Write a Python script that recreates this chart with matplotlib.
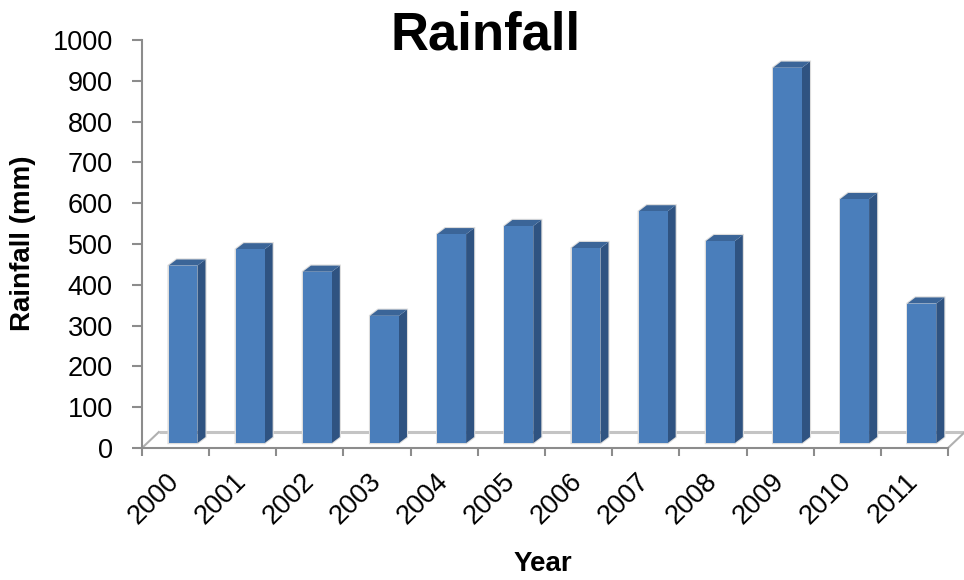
import numpy as np
import matplotlib
matplotlib.use('Agg')
import matplotlib.pyplot as plt
from matplotlib.patches import Polygon

plt.rcParams['font.family'] = ['Liberation Sans', 'DejaVu Sans']

# data
years = ['2000', '2001', '2002', '2003', '2004', '2005',
         '2006', '2007', '2008', '2009', '2010', '2011']
rainfall = [435, 475, 420, 312, 512, 532, 478, 568, 495, 920, 598, 342]

front_col = '#4a7ebb'
side_col = '#2f5381'
top_col = '#3b6598'
axis_col = '#8c8c8c'

fig = plt.figure(figsize=(9.64, 5.8), dpi=100)
ax = fig.add_axes([142 / 964, 132 / 580, 806 / 964, 408 / 580])
ax.set_xlim(-0.5, len(years) - 0.5)
ax.set_ylim(0, 1000)

# fake 3d: depth offsets in data units
floor_dx, floor_dy = 0.25, 39
bar_w, bar_shift = 0.43, 0.11
base = 12
dep_dx, dep_dy = 0.12, 15

# floor
x0, x1 = -0.5, len(years) - 0.5
ax.add_patch(Polygon([(x0, 0), (x1, 0), (x1 + floor_dx, floor_dy), (x0 + floor_dx, floor_dy)],
                     closed=True, facecolor='white', edgecolor='none', clip_on=False, zorder=1))
ax.plot([x0 + floor_dx, x1 + floor_dx], [floor_dy, floor_dy], color='#c4c4c4', lw=2.2,
        clip_on=False, zorder=1.5, solid_capstyle='butt')
ax.plot([x0, x0 + floor_dx], [0, floor_dy], color='#b0b0b0', lw=1.5, clip_on=False, zorder=1.5)
ax.plot([x1, x1 + floor_dx], [0, floor_dy], color='#b0b0b0', lw=1.5, clip_on=False, zorder=1.5)

x = np.arange(len(years))
for xi, v in zip(x, rainfall):
    xl = xi - bar_w / 2 + bar_shift
    xr = xl + bar_w
    b, t = base, base + v
    # soft halo
    ax.add_patch(Polygon([(xl, b), (xr, b), (xr + dep_dx, b + dep_dy), (xr + dep_dx, t + dep_dy),
                          (xl + dep_dx, t + dep_dy), (xl, t)], closed=True,
                         facecolor='none', edgecolor='#dcdcdc', lw=1.6, zorder=2))
    ax.add_patch(Polygon([(xr, b), (xr + dep_dx, b + dep_dy), (xr + dep_dx, t + dep_dy), (xr, t)],
                         closed=True, facecolor=side_col, edgecolor='none', zorder=3))
    ax.add_patch(Polygon([(xl, t), (xr, t), (xr + dep_dx, t + dep_dy), (xl + dep_dx, t + dep_dy)],
                         closed=True, facecolor=top_col, edgecolor='none', zorder=3))

ax.bar(x + bar_shift, rainfall, width=bar_w, bottom=base, color=front_col, zorder=3)

# axes styling
for s in ['top', 'right']:
    ax.spines[s].set_visible(False)
ax.spines['left'].set_color(axis_col)
ax.spines['left'].set_linewidth(1.5)
ax.spines['bottom'].set_color(axis_col)
ax.spines['bottom'].set_linewidth(1.5)
ax.spines['bottom'].set_zorder(4)

ax.set_yticks(np.arange(0, 1001, 100))
ax.tick_params(axis='y', length=7, width=1.5, color=axis_col, labelsize=19.5, pad=14)

ax.set_xticks(x)
ax.set_xticklabels(years, rotation=45, ha='right', va='center', rotation_mode='anchor')
ax.set_xticks(np.arange(-0.5, len(years)), minor=True)
ax.tick_params(axis='x', which='major', length=0, labelsize=19.5, pad=21)
ax.tick_params(axis='x', which='minor', length=6, width=1.5, color=axis_col)

fig.text(486 / 964, 1 - 35 / 580, 'Rainfall', ha='center', va='center',
         fontsize=38, fontweight='bold')
fig.text(23 / 964, 1 - 243 / 580, 'Rainfall (mm)', ha='center', va='center',
         rotation=90, fontsize=20, fontweight='bold')
fig.text(543 / 964, 1 - 564 / 580, 'Year', ha='center', va='center',
         fontsize=20, fontweight='bold')

fig.savefig('out.png', dpi=100)
